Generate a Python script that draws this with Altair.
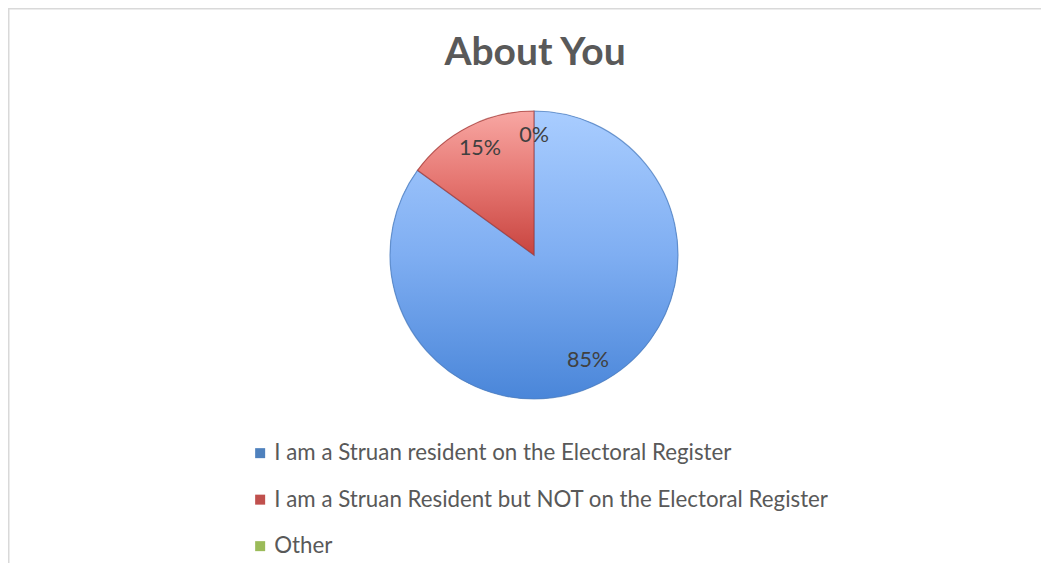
import altair as alt
import pandas as pd

categories = [
    "I am a Struan resident on the Electoral Register",
    "I am a Struan Resident but NOT on the Electoral Register",
    "Other",
]
values = [85, 15, 0]
pct_labels = ["85%", "15%", "0%"]
legend_colors = ["#4F81BD", "#C0504D", "#9BBB59"]
chart_title = ["About You"]

df = pd.DataFrame({"category": categories, "value": values, "label": pct_labels,
                   "order": list(range(len(categories)))})

W, H = 1033, 555
CX, CY, R = 526, 247, 144

base = alt.Chart(df).transform_joinaggregate(
    total="sum(value)"
).transform_window(
    cum="sum(value)", sort=[alt.SortField("order")], frame=[None, 0]
).transform_calculate(
    start="(datum.cum - datum.value) / datum.total * 2 * PI",
    end="datum.cum / datum.total * 2 * PI",
    mid="(datum.cum - datum.value / 2) / datum.total * 2 * PI",
)

arc_enc = dict(
    theta=alt.Theta("start:Q", scale=None),
    theta2=alt.Theta2("end:Q"),
    x=alt.value(CX), y=alt.value(CY),
)

legend_layer = base.mark_arc(radius=R).encode(
    color=alt.Color("category:N", scale=alt.Scale(domain=categories, range=legend_colors),
                    sort=categories,
                    legend=alt.Legend(title=None, orient="none", legendX=241, legendY=434,
                                      direction="vertical", symbolType="square",
                                      symbolSize=100, symbolStrokeWidth=0,
                                      labelFont="Lato", labelFontSize=22.3,
                                      labelColor="#595959", labelOffset=3,
                                      rowPadding=23.5, labelLimit=900)),
    **arc_enc,
)

blue_grad = alt.LinearGradient(gradient="linear", x1=0, y1=0, x2=0, y2=1, stops=[
    alt.GradientStop(color="#A9CDFF", offset=0),
    alt.GradientStop(color="#7FAEF2", offset=0.5),
    alt.GradientStop(color="#4A86D9", offset=1),
])
red_grad = alt.LinearGradient(gradient="linear", x1=0, y1=0, x2=0, y2=1, stops=[
    alt.GradientStop(color="#F8A7A3", offset=0),
    alt.GradientStop(color="#E57570", offset=0.5),
    alt.GradientStop(color="#C8443F", offset=1),
])

blue_layer = base.transform_filter(alt.datum.order == 0).mark_arc(
    radius=R, fill=blue_grad, stroke="#4F7FC0", strokeWidth=1.2, strokeOpacity=0.7
).encode(**arc_enc)
red_layer = base.transform_filter(alt.datum.order == 1).mark_arc(
    radius=R, fill=red_grad, stroke="#A33B37", strokeWidth=1.2, strokeOpacity=0.7
).encode(**arc_enc)

labels = base.mark_text(font="Lato", fontSize=21.5, color="#404040",
                        align="center", baseline="middle").encode(
    x=alt.value(CX), y=alt.value(CY),
    theta=alt.Theta("mid:Q", scale=None),
    radius=alt.value(119),
    text="label:N",
)

title_layer = alt.Chart(pd.DataFrame({"t": chart_title})).mark_text(
    font="Lato", fontSize=39, fontWeight="bold", color="#595959",
    align="center", baseline="alphabetic"
).encode(x=alt.value(527), y=alt.value(57), text="t:N")

frame_df = pd.DataFrame({"f": [0]})
top_rule = alt.Chart(frame_df).mark_rule(color="#D9D9D9", strokeWidth=1.5).encode(
    x=alt.value(0), x2=alt.value(W), y=alt.value(0.75))
left_rule = alt.Chart(frame_df).mark_rule(color="#D9D9D9", strokeWidth=1.5).encode(
    x=alt.value(0.75), y=alt.value(0), y2=alt.value(H))

chart = alt.layer(
    top_rule, left_rule, legend_layer, blue_layer, red_layer, labels, title_layer
).properties(
    width=W, height=H, autosize=alt.AutoSizeParams(type="none"), padding=0,
    background="white",
).configure_view(stroke=None)

chart.save("out.html", embed_options={"renderer": "svg", "actions": False})
